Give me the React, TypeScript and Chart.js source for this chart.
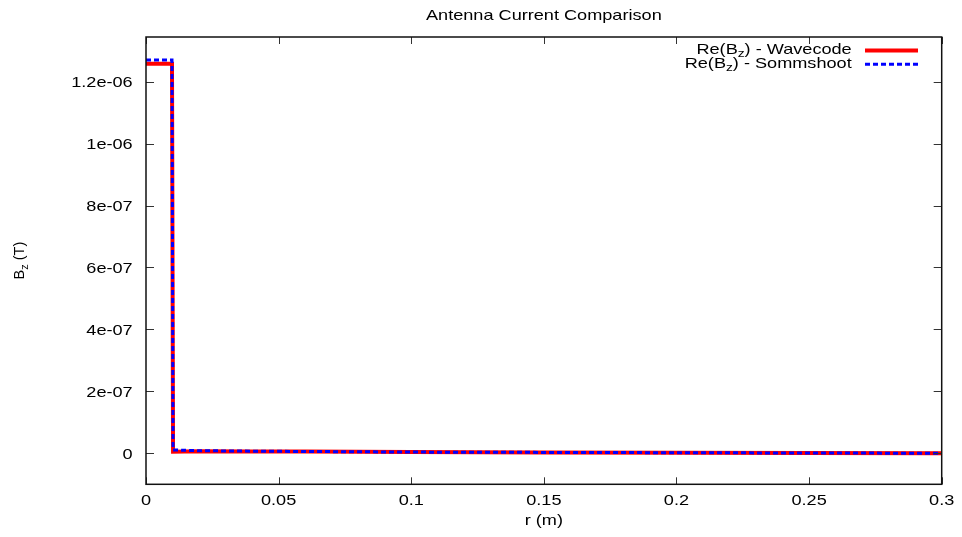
import React, { useEffect, useRef } from 'react';
import { Chart, registerables } from 'chart.js';

Chart.register(...registerables);

// Radial profile of the axial field for the two solvers
const rWavecode = [0, 0.0098, 0.0102, 0.02, 0.04, 0.06, 0.08, 0.1, 0.15, 0.2, 0.25, 0.3];
const bzWavecode = [1.258e-6, 1.258e-6, 5e-9, 7e-9, 6e-9, 5.5e-9, 5e-9, 4e-9, 3e-9, 2e-9, 1e-9, 0.3e-9];
const rSommshoot = [0, 0.0098, 0.0102, 0.02, 0.04, 0.06, 0.08, 0.1, 0.15, 0.2, 0.25, 0.3];
const bzSommshoot = [1.27e-6, 1.27e-6, 1.1e-8, 8.5e-9, 7e-9, 6e-9, 5e-9, 4e-9, 3e-9, 2e-9, 1e-9, 0.3e-9];

const xTickValues = [0, 0.05, 0.1, 0.15, 0.2, 0.25, 0.3];
const xTickLabels = ['0', '0.05', '0.1', '0.15', '0.2', '0.25', '0.3'];
const yTickValues = [0, 2e-7, 4e-7, 6e-7, 8e-7, 1e-6, 1.2e-6];
const yTickLabels = ['0', '2e-07', '4e-07', '6e-07', '8e-07', '1e-06', '1.2e-06'];

const chartTitle = 'Antenna Current Comparison';
const xAxisTitle = 'r (m)';
const seriesNames = ['Wavecode', 'Sommshoot'];
const seriesColors = ['#ff0000', '#0000ff'];

const FAMILY = '"Liberation Sans", Arial, Helvetica, sans-serif';
const MAIN_FONT = `14.5px ${FAMILY}`;
const SUB_FONT = `11px ${FAMILY}`;
const TEXT_STRETCH = 1.25;

type Part = { text: string; sub?: boolean };

function drawRich(
  ctx: CanvasRenderingContext2D,
  parts: Part[],
  x: number,
  y: number,
  align: 'left' | 'center' | 'right',
  sx: number,
  subDy: number
) {
  const widths = parts.map((p) => {
    ctx.font = p.sub ? SUB_FONT : MAIN_FONT;
    return ctx.measureText(p.text).width;
  });
  const total = widths.reduce((s, w) => s + w, 0);
  ctx.save();
  ctx.translate(x, y);
  ctx.scale(sx, 1);
  ctx.textAlign = 'left';
  ctx.textBaseline = 'alphabetic';
  ctx.fillStyle = '#000';
  let cx = align === 'right' ? -total : align === 'center' ? -total / 2 : 0;
  parts.forEach((p, i) => {
    ctx.font = p.sub ? SUB_FONT : MAIN_FONT;
    ctx.fillText(p.text, cx, p.sub ? subDy : 0);
    cx += widths[i];
  });
  ctx.restore();
}

const framePlugin = {
  id: 'gnuplotFrame',
  afterDraw(chart: any) {
    const { ctx, chartArea: a, scales } = chart;
    const xs = scales.x;
    const ys = scales.y;
    ctx.save();

    // inward ticks on all four sides
    ctx.strokeStyle = '#333';
    ctx.lineWidth = 1;
    ctx.beginPath();
    xTickValues.forEach((v) => {
      const px = Math.round(xs.getPixelForValue(v)) + 0.5;
      ctx.moveTo(px, a.bottom);
      ctx.lineTo(px, a.bottom - 7);
      ctx.moveTo(px, a.top);
      ctx.lineTo(px, a.top + 7);
    });
    yTickValues.forEach((v) => {
      const py = Math.round(ys.getPixelForValue(v)) + 0.5;
      ctx.moveTo(a.left, py);
      ctx.lineTo(a.left + 8, py);
      ctx.moveTo(a.right, py);
      ctx.lineTo(a.right - 8, py);
    });
    ctx.stroke();

    // border
    ctx.strokeStyle = '#111';
    ctx.lineWidth = 1.5;
    ctx.strokeRect(a.left, a.top, a.right - a.left, a.bottom - a.top);

    // tick labels
    xTickValues.forEach((v, i) => {
      drawRich(ctx, [{ text: xTickLabels[i] }], xs.getPixelForValue(v), 505, 'center', TEXT_STRETCH, 0);
    });
    yTickValues.forEach((v, i) => {
      drawRich(ctx, [{ text: yTickLabels[i] }], 132.7, ys.getPixelForValue(v) + 5.5, 'right', TEXT_STRETCH, 0);
    });

    const cxArea = (a.left + a.right) / 2;
    const cyArea = (a.top + a.bottom) / 2;

    // titles
    drawRich(ctx, [{ text: chartTitle }], cxArea, 19.5, 'center', TEXT_STRETCH, 0);
    drawRich(ctx, [{ text: xAxisTitle }], cxArea, 524.5, 'center', TEXT_STRETCH, 0);

    ctx.save();
    ctx.translate(24, cyArea);
    ctx.rotate(-Math.PI / 2);
    drawRich(ctx, [{ text: 'B' }, { text: 'z', sub: true }, { text: ' (T)' }], 0, 0, 'center', 1, 4);
    ctx.restore();

    // key
    const keyRight = 851.7;
    const rows = [54, 68];
    const sampleY = [50.5, 64.3];
    seriesNames.forEach((name, i) => {
      drawRich(
        ctx,
        [{ text: 'Re(B' }, { text: 'z', sub: true }, { text: `) - ${name}` }],
        keyRight,
        rows[i],
        'right',
        TEXT_STRETCH,
        2.5
      );
      ctx.beginPath();
      ctx.strokeStyle = seriesColors[i];
      ctx.lineWidth = i === 0 ? 4 : 3;
      ctx.setLineDash(i === 0 ? [] : [5, 3]);
      ctx.moveTo(865, sampleY[i]);
      ctx.lineTo(918, sampleY[i]);
      ctx.stroke();
      ctx.setLineDash([]);
    });

    ctx.restore();
  },
};

export default function App() {
  const canvasRef = useRef<HTMLCanvasElement | null>(null);

  useEffect(() => {
    const canvas = canvasRef.current;
    if (!canvas) return;
    const chart = new Chart(canvas, {
      type: 'line',
      data: {
        datasets: [
          {
            label: seriesNames[0],
            data: rWavecode.map((r, i) => ({ x: r, y: bzWavecode[i] })),
            borderColor: seriesColors[0],
            borderWidth: 4,
            pointRadius: 0,
            tension: 0,
            borderJoinStyle: 'miter',
            borderCapStyle: 'butt',
            order: 1,
          },
          {
            label: seriesNames[1],
            data: rSommshoot.map((r, i) => ({ x: r, y: bzSommshoot[i] })),
            borderColor: seriesColors[1],
            borderWidth: 3,
            borderDash: [5, 3],
            pointRadius: 0,
            tension: 0,
            borderJoinStyle: 'miter',
            borderCapStyle: 'butt',
            order: 0,
          },
        ],
      },
      options: {
        responsive: false,
        animation: false,
        devicePixelRatio: 1,
        layout: { padding: { left: 146, right: 20.3, top: 37, bottom: 52.7 } },
        plugins: { legend: { display: false }, tooltip: { enabled: false }, title: { display: false } },
        scales: {
          x: { type: 'linear', min: 0, max: 0.3, display: false },
          y: { type: 'linear', min: -1e-7, max: 1.344e-6, display: false },
        },
      },
      plugins: [framePlugin],
    });
    return () => chart.destroy();
  }, []);

  return (
    <div style={{ position: 'absolute', left: 0, top: 0, width: 962, height: 537, background: '#fff' }}>
      <canvas ref={canvasRef} width={962} height={537} />
    </div>
  );
}
